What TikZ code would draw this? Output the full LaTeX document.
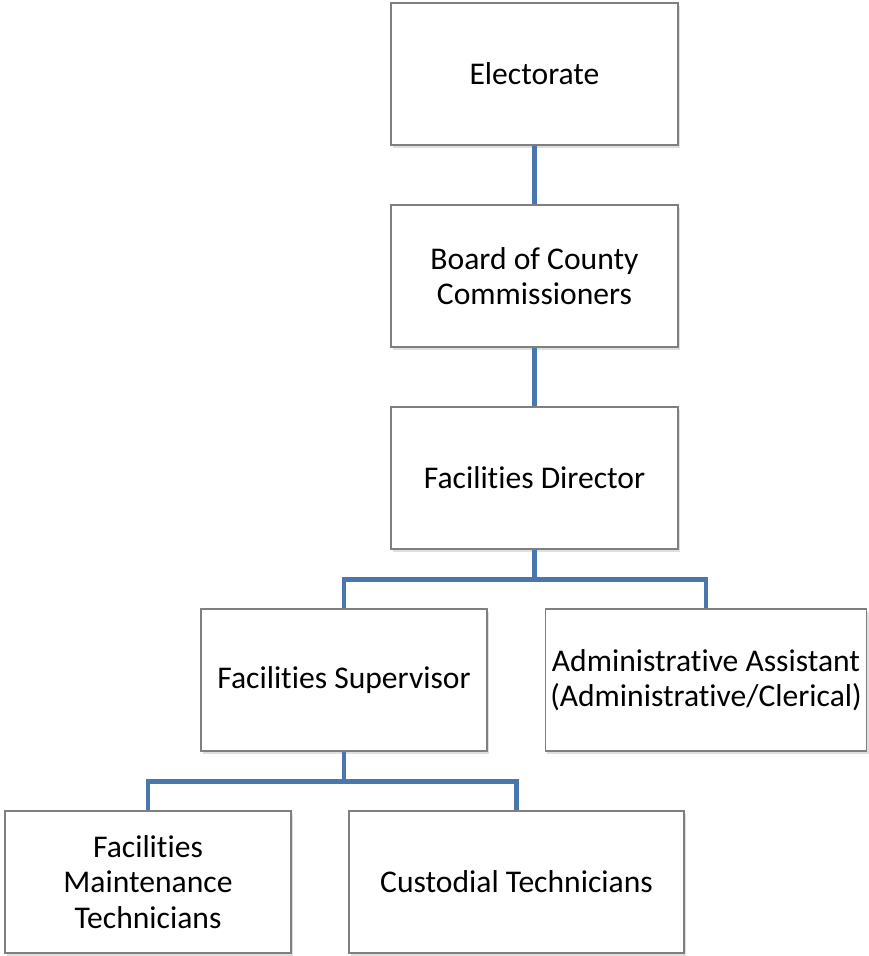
\documentclass[tikz,border=0pt]{standalone}
\usepackage{fontspec}
\setmainfont{Carlito}[RawFeature={-liga;-clig}]
\usetikzlibrary{shadows}
\definecolor{linkblue}{HTML}{4A76AE}
\definecolor{boxgray}{HTML}{7F7F7F}
\tikzset{
    orgbox/.style={draw=boxgray, line width=1.1pt, fill=white, align=center,
        drop shadow={shadow xshift=1.5pt, shadow yshift=-2pt, opacity=0.25},
        inner sep=0pt, font=\fontsize{23.7}{26.5}\selectfont},
    link/.style={linkblue, line width=3.6pt}
}
\begin{document}
\begin{tikzpicture}[x=0.75pt, y=-0.75pt]
    \useasboundingbox (0,0) rectangle (868,956);
    \node[orgbox, minimum width=215pt, minimum height=106.5pt] (elec) at (534.5,74) {Electorate};
    \node[orgbox, minimum width=215pt, minimum height=106.5pt] (board) at (534.5,276) {Board of County\\Commissioners};
    \node[orgbox, minimum width=215pt, minimum height=106.5pt] (dir) at (534.5,478) {Facilities Director};
    \node[orgbox, minimum width=214.5pt, minimum height=106.5pt] (sup) at (344,680) {Facilities Supervisor};
    \node[orgbox, minimum width=241pt, minimum height=106.5pt] (adm) at (706,680) {Administrative Assistant\\(Administrative/Clerical)};
    \node[orgbox, minimum width=214.5pt, minimum height=106.5pt] (maint) at (148,882) {Facilities\\Maintenance\\Technicians};
    \node[orgbox, minimum width=251pt, minimum height=106.5pt] (cust) at (516.5,882) {Custodial Technicians};
    \draw[link] (elec.south) -- (board.north);
    \draw[link] (board.south) -- (dir.north);
    \draw[link] (dir.south) -- ++(0,30) -| (sup.north);
    \draw[link] (dir.south) -- ++(0,30) -| (adm.north);
    \draw[link] (sup.south) -- ++(0,30) -| (maint.north);
    \draw[link] (sup.south) -- ++(0,30) -| (cust.north);
\end{tikzpicture}
\end{document}
